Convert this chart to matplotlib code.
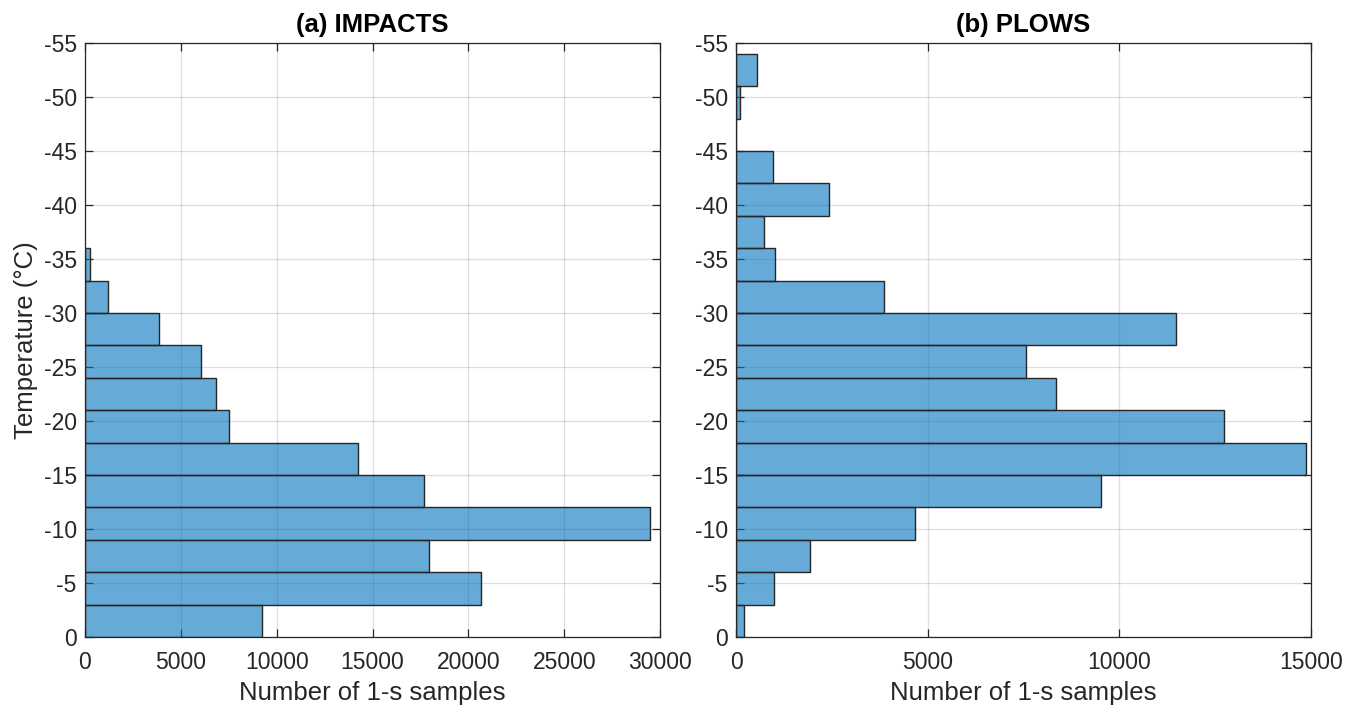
import numpy as np
import matplotlib.pyplot as plt

plt.rcParams['font.family'] = ['Liberation Sans', 'DejaVu Sans']
plt.rcParams['axes.unicode_minus'] = False

# 3-degree temperature bins, starting at 0 and going colder
bin_width = 3
impacts_edges = np.arange(0, -36, -bin_width)
plows_edges = np.arange(0, -54, -bin_width)

# counts of 1-s samples per bin (warmest bin first)
impacts_counts = [9260, 20660, 17970, 29480, 17690, 14240,
                  7510, 6830, 6050, 3860, 1200, 260]
plows_counts = [200, 990, 1920, 4670, 9510, 14865, 12730, 8355, 7565,
                11470, 3860, 1025, 720, 2420, 966, 0, 100, 545]

face = (0.0, 0.447, 0.741)
edge = '#262626'
axcol = '#262626'

fig = plt.figure(figsize=(13.49, 7.07), dpi=100)
ax1 = fig.add_axes([0.063, 0.099, 0.4263, 0.840])
ax2 = fig.add_axes([0.5456, 0.099, 0.4263, 0.840])

panels = [
    (ax1, impacts_edges, impacts_counts, '(a) IMPACTS', 30000, 5000),
    (ax2, plows_edges, plows_counts, '(b) PLOWS', 15000, 5000),
]

for ax, edges, counts, title, xmax, xstep in panels:
    ax.barh(edges, counts, height=-bin_width, align='edge', left=0,
            color=face, alpha=0.6, edgecolor='none', zorder=2)
    ax.barh(edges, counts, height=-bin_width, align='edge', left=0,
            facecolor='none', edgecolor=edge, linewidth=1.0, zorder=3)
    ax.set_xlim(0, xmax)
    ax.set_ylim(0, -55)
    ax.set_xticks(np.arange(0, xmax + 1, xstep))
    ax.set_yticks(np.arange(0, -56, -5))
    ax.grid(True, color='#262626', alpha=0.15, linewidth=0.9, zorder=0)
    ax.set_axisbelow(True)
    ax.tick_params(direction='in', length=6, width=0.9, colors=axcol,
                   labelsize=16.5, top=True, right=True)
    ax.tick_params(axis='x', pad=10)
    ax.tick_params(axis='y', pad=6)
    for sp in ax.spines.values():
        sp.set_color(axcol)
        sp.set_linewidth(0.9)
    ax.set_xlabel('Number of 1-s samples', fontsize=18.5, color=axcol, labelpad=5)
    ax.set_title(title, fontsize=18.5, fontweight='bold', color='black', pad=8)

ax1.set_ylabel('Temperature (°C)', fontsize=18.5, color=axcol, labelpad=4)

fig.savefig('out.png', dpi=100)
